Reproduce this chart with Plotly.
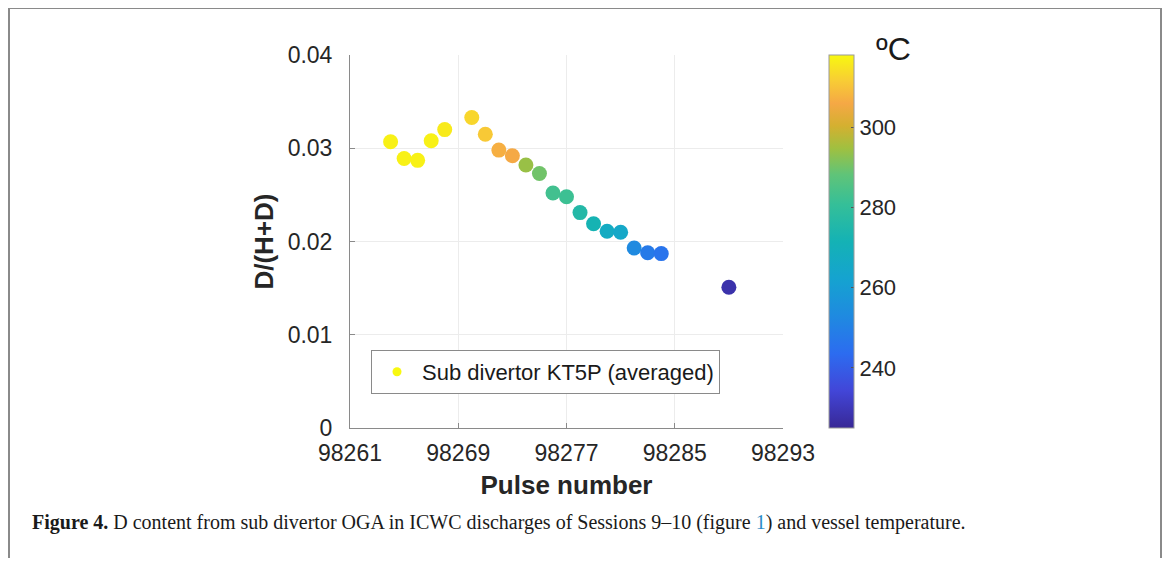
import plotly.graph_objects as go

# ---- data ----
pulse = [98264, 98265, 98266, 98267, 98268, 98270, 98271, 98272, 98273, 98274,
         98275, 98276, 98277, 98278, 98279, 98280, 98281, 98282, 98283, 98284, 98289]
d_fraction = [0.0307, 0.0289, 0.0287, 0.0308, 0.0320, 0.0333, 0.0315, 0.0298, 0.0292, 0.0282,
              0.0273, 0.0252, 0.0248, 0.0231, 0.0219, 0.0211, 0.0210, 0.0193, 0.0188, 0.0187, 0.0151]
temperature = [317, 317, 317, 317, 316, 313, 311, 307, 306, 294,
               290, 283, 282, 276, 272, 267, 265, 253, 248, 246, 228]
x_ticks = [98261, 98269, 98277, 98285, 98293]
y_ticks = [0, 0.01, 0.02, 0.03, 0.04]
y_tick_text = ["0", "0.01", "0.02", "0.03", "0.04"]
cbar_ticks = [240, 260, 280, 300]
legend_name = "Sub divertor KT5P (averaged)"
caption = ("<b>Figure 4.</b> D content from sub divertor OGA in ICWC discharges of Sessions 9\u201310 "
           "(figure <span style='color:#2a8cc8'>1</span>) and vessel temperature.")

parula = [
    [0.00, "rgb(56,40,150)"],
    [0.10, "rgb(66,70,216)"],
    [0.20, "rgb(44,108,240)"],
    [0.30, "rgb(31,138,224)"],
    [0.40, "rgb(21,163,208)"],
    [0.50, "rgb(20,178,181)"],
    [0.60, "rgb(53,191,152)"],
    [0.68, "rgb(96,196,120)"],
    [0.75, "rgb(160,192,64)"],
    [0.81, "rgb(212,176,48)"],
    [0.87, "rgb(245,168,69)"],
    [0.93, "rgb(248,204,53)"],
    [1.00, "rgb(248,248,16)"],
]

# page has an 8px body margin: work in window pixels, convert to figure pixels
OFF = 8
W, H = 1171 - 2 * OFF, 566 - 2 * OFF
L, R, T, B = 350, 783, 55, 428          # plot area in window pixels
pw, ph = R - L, B - T

def px(x):
    return (x - L) / pw

def py(y):
    return (B - y) / ph

font = "Liberation Sans, Arial, Helvetica, sans-serif"

fig = go.Figure()
fig.add_trace(go.Scatter(
    x=pulse, y=d_fraction, mode="markers", showlegend=False,
    marker=dict(size=15, color=temperature, colorscale=parula, cmin=225, cmax=318,
                line=dict(width=0),
                colorbar=dict(
                    xref="paper", yref="paper",
                    x=px(829), xanchor="left", xpad=0, ypad=0,
                    y=1, yanchor="top", len=1, lenmode="fraction",
                    thickness=25, thicknessmode="pixels",
                    outlinewidth=1, outlinecolor="#9a9a9a",
                    tickvals=cbar_ticks, ticks="inside", ticklen=3, tickcolor="#555555",
                    tickfont=dict(family=font, size=22, color="#262626"),
                )),
))
# legend entry
fig.add_trace(go.Scatter(
    x=[None], y=[None], mode="markers", name=legend_name,
    marker=dict(size=9, color="#f8f810"),
))

fig.update_layout(
    width=W, height=H,
    margin=dict(l=L - OFF, r=W - (R - OFF), t=T - OFF, b=H - (B - OFF), autoexpand=False),
    paper_bgcolor="white", plot_bgcolor="white",
    font=dict(family=font, color="#262626"),
    showlegend=True,
    legend=dict(
        x=px(371), y=py(350), xanchor="left", yanchor="top",
        bordercolor="#8a8a8a", borderwidth=1, bgcolor="white",
        font=dict(family=font, size=22, color="#1a1a1a"),
        itemwidth=40,
    ),
    xaxis=dict(
        range=[98261, 98293], tickvals=x_ticks, ticktext=[str(v) for v in x_ticks],
        showgrid=True, gridcolor="#ececec", gridwidth=1,
        showline=True, linecolor="#8a8a8a", linewidth=1,
        ticks="inside", ticklen=5, tickcolor="#8a8a8a",
        tickfont=dict(family=font, size=23, color="#262626"),
        ticklabelstandoff=4,
        zeroline=False,
        title=dict(text="<b>Pulse number</b>", font=dict(family=font, size=26, color="#262626"),
                   standoff=11),
    ),
    yaxis=dict(
        range=[0, 0.04], tickvals=y_ticks, ticktext=y_tick_text,
        showgrid=True, gridcolor="#ececec", gridwidth=1,
        showline=True, linecolor="#8a8a8a", linewidth=1,
        ticks="inside", ticklen=5, tickcolor="#8a8a8a",
        tickfont=dict(family=font, size=23, color="#262626"),
        ticklabelstandoff=12,
        zeroline=False,
        title=dict(text="<b>D/(H+D)</b>", font=dict(family=font, size=26, color="#262626"),
                   standoff=6),
    ),
    shapes=[dict(
        type="rect", xref="paper", yref="paper",
        x0=px(9), x1=px(1161), y0=py(600), y1=py(8),
        line=dict(color="#8a8a8a", width=2), fillcolor="rgba(0,0,0,0)", layer="below",
    )],
    annotations=[
        dict(text="\u00baC", xref="paper", yref="paper", x=px(874), y=py(49),
             xanchor="left", yanchor="middle", showarrow=False,
             font=dict(family=font, size=32, color="#1a1a1a")),
        dict(text=caption, xref="paper", yref="paper", x=px(30), y=py(522),
             xanchor="left", yanchor="middle", showarrow=False,
             font=dict(family="Liberation Serif, Times New Roman, serif", size=20, color="#1a1a1a")),
    ],
)

fig.write_html("out.html")
